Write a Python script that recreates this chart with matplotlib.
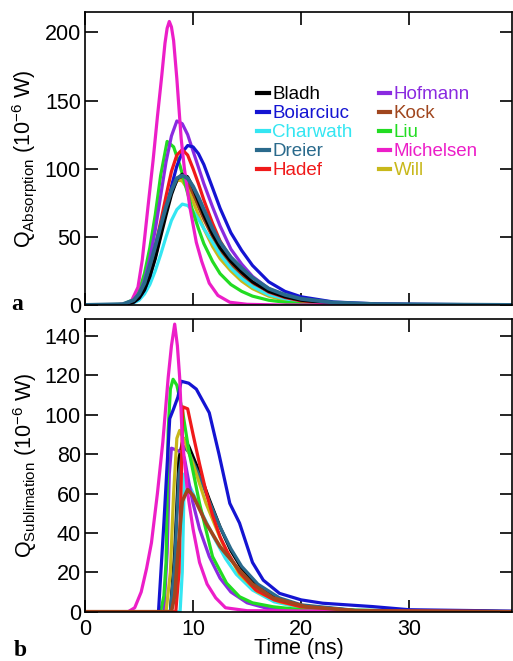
import matplotlib
matplotlib.use("Agg")
import matplotlib.pyplot as plt

plt.rcParams['font.family'] = ['Liberation Sans', 'DejaVu Sans']
plt.rcParams['mathtext.fontset'] = 'custom'
plt.rcParams['mathtext.rm'] = 'Liberation Sans'
plt.rcParams['mathtext.it'] = 'Liberation Sans:italic'
plt.rcParams['mathtext.bf'] = 'Liberation Sans:bold'

names = ['Bladh', 'Boiarciuc', 'Charwath', 'Dreier', 'Hadef',
         'Hofmann', 'Kock', 'Liu', 'Michelsen', 'Will']
colors = ['#000000', '#1414d2', '#34e6f2', '#2a6a8c', '#f01a1a',
          '#8a2ae0', '#a0461e', '#22dc22', '#ec1ec8', '#c8b81a']

# --- absorption (ns, 1e-6 W) ---
t_abs = [0, 3.5, 4.5, 5.0, 5.5, 6.0, 6.5, 7.0, 7.5, 8.0, 8.5, 9.0, 9.5, 10.0,
         10.5, 11.0, 11.8, 12.5, 13.5, 14.5, 15.5, 17.0, 18.5, 20.0, 23.0, 27.0, 39.5]
abs_bladh = [0, 0.3, 2, 5, 11, 21, 34, 50, 66, 81, 92, 96, 94, 86,
             76, 66, 52, 42, 32, 24, 17, 10, 6, 3.5, 1.2, 0.4, 0]
abs_boiarciuc = [0, 0.2, 2, 5, 11, 21, 35, 52, 70, 87, 102, 112, 117, 116,
                 111, 103, 86, 71, 53, 40, 29, 17, 10, 6, 2.2, 0.8, 0]
abs_charwath = [0, 0.2, 1.5, 3.5, 8, 15, 25, 37, 50, 62, 70, 74, 73, 69,
                63, 56, 46, 37, 27, 19.5, 13.5, 7.5, 4.5, 2.5, 0.8, 0.3, 0]
abs_dreier = [0, 0.6, 3.5, 8, 16, 29, 43, 58, 72, 84, 93, 95, 93, 87,
              79, 70, 56, 46, 35, 27, 20, 12, 7.5, 4.5, 1.8, 0.6, 0]
abs_hadef = [0, 0.3, 2.5, 6, 14, 26, 42, 61, 80, 98, 110, 114, 110, 100,
             89, 77, 60, 47, 34, 24, 17, 9.5, 5.5, 3, 1, 0.3, 0]
abs_hofmann = [0, 0.3, 3, 8, 18, 34, 55, 80, 105, 124, 135, 133, 125, 113,
               101, 89, 72, 58, 41, 30, 21, 12, 7, 4, 1.4, 0.4, 0]
abs_kock = [0, 0.3, 2.3, 5.5, 12, 23, 37, 54, 70, 83, 91, 93, 89, 81,
            72, 63, 50, 40, 30, 22, 15.5, 9, 5, 3, 1, 0.3, 0]
abs_will = [0, 0.3, 2.5, 6, 13, 24, 39, 56, 72, 85, 92, 91, 85, 76,
            66, 56, 43, 34, 25, 17.5, 12, 6.5, 3.5, 2, 0.6, 0.2, 0]

t_abs_liu = [0, 3.5, 4.5, 5.0, 5.5, 6.0, 6.5, 7.0, 7.6, 8.2, 8.8, 9.5, 10.0,
             10.5, 11.0, 11.8, 12.5, 13.5, 14.5, 15.5, 17.0, 18.5, 20.0, 23.0, 39.5]
abs_liu = [0, 0.4, 4, 10, 23, 42, 66, 95, 120, 116, 102, 82, 68,
           56, 45, 32, 23, 15, 10, 6.5, 3.5, 2, 1, 0.2, 0]

t_abs_michelsen = [0, 3.0, 3.7, 4.3, 4.9, 5.3, 5.8, 6.3, 6.7, 7.1, 7.4, 7.6, 7.8,
                   8.0, 8.2, 8.5, 8.9, 9.2, 9.7, 10.3, 10.8, 11.5, 12.3, 13.4, 15.0, 18.0, 39.5]
abs_michelsen = [0, 0.2, 0.8, 3, 13, 33, 70, 106, 138, 168, 192, 203, 208,
                 204, 194, 166, 122, 100, 72, 46, 32, 16, 7, 2, 0.5, 0, 0]

# --- sublimation (ns, 1e-6 W) ---
t_sub_bladh = [0, 7.9, 8.3, 8.7, 9.1, 9.6, 10.5, 11.5, 12.5, 13.5, 14.5, 16, 18, 20, 25, 39.5]
sub_bladh = [0, 0, 30, 78, 88, 84, 72, 57, 43, 31, 22, 13, 6, 3, 0.6, 0]
sub_dreier = [0, 0, 25, 70, 84, 81, 70, 56, 43, 32, 23, 14, 7, 3.5, 0.7, 0]

t_sub_boiarciuc = [0, 6.8, 7.3, 7.84, 8.2, 8.6, 8.9, 9.6, 10.3, 11.0, 11.5, 12.4,
                   13.4, 14.3, 15.5, 16.5, 18.0, 20.0, 22.0, 26.6, 30.0, 39.5]
sub_boiarciuc = [0, 0, 45, 98, 103, 109, 117, 116, 113, 106, 101, 80,
                 55, 45, 25, 16, 9.3, 6, 4.3, 2.6, 1, 0.3]

t_sub_charwath = [0, 8.8, 9.0, 9.2, 9.5, 10, 11, 12, 13, 14, 15.5, 17.5, 20, 25, 39.5]
sub_charwath = [0, 0, 20, 70, 66, 60, 48, 37, 27, 19, 11, 5, 2, 0.3, 0]

t_sub_hadef = [0, 8.4, 8.7, 8.9, 9.05, 9.5, 10.0, 10.6, 11.2, 11.8, 12.5, 13.2,
               14.3, 15.8, 17.5, 20, 25, 39.5]
sub_hadef = [0, 0, 20, 65, 104, 103, 90, 75, 61, 49, 38, 30, 20, 11, 6, 2.5, 0.5, 0]

t_sub_hofmann = [0, 7.3, 7.6, 7.8, 8.0, 8.5, 8.9, 9.2, 9.7, 10.0, 10.6, 11.5,
                 12.5, 13.5, 15, 17, 20, 39.5]
sub_hofmann = [0, 0, 30, 70, 83, 82, 81, 78, 63, 55, 42, 28, 17, 10, 4.5, 1.5, 0.3, 0]

t_sub_kock = [0, 8.0, 8.3, 8.6, 9.0, 9.5, 10.0, 11.2, 12.5, 14.3, 15.5, 17.4, 20.5, 25, 39.5]
sub_kock = [0, 0, 8, 30, 56, 62, 59, 45, 33, 21, 14, 7, 2.5, 0.5, 0]

t_sub_liu = [0, 7.0, 7.3, 7.5, 7.7, 7.9, 8.15, 8.5, 9.05, 9.6, 10.6, 11.8, 13.1,
             14.3, 15.5, 17.4, 20, 39.5]
sub_liu = [0, 0, 8, 25, 92, 113, 118, 115, 101, 82, 55, 28, 14.5, 7.6, 4.5, 2.5, 1, 0]

t_sub_michelsen = [0, 4.0, 4.6, 5.2, 5.7, 6.15, 6.7, 7.2, 7.7, 8.0, 8.3, 8.55, 8.76,
                   9.0, 9.5, 10.0, 10.6, 11.3, 12.1, 13.0, 15.0, 39.5]
sub_michelsen = [0, 0, 2, 10, 22, 35, 60, 86, 119, 135, 146, 135, 119,
                 88, 60, 42, 25, 14, 7, 2, 0.5, 0]

t_sub_will = [0, 7.5, 7.9, 8.2, 8.5, 8.76, 9.2, 10.0, 11.2, 12.7, 14.3, 16, 18, 20, 25, 39.5]
sub_will = [0, 0, 20, 60, 88, 92, 87, 75, 55, 35, 19, 10, 5, 2.5, 0.5, 0]

abs_series = {
    'Bladh': (t_abs, abs_bladh), 'Boiarciuc': (t_abs, abs_boiarciuc),
    'Charwath': (t_abs, abs_charwath), 'Dreier': (t_abs, abs_dreier),
    'Hadef': (t_abs, abs_hadef), 'Hofmann': (t_abs, abs_hofmann),
    'Kock': (t_abs, abs_kock), 'Liu': (t_abs_liu, abs_liu),
    'Michelsen': (t_abs_michelsen, abs_michelsen), 'Will': (t_abs, abs_will),
}
sub_series = {
    'Bladh': (t_sub_bladh, sub_bladh), 'Boiarciuc': (t_sub_boiarciuc, sub_boiarciuc),
    'Charwath': (t_sub_charwath, sub_charwath), 'Dreier': (t_sub_bladh, sub_dreier),
    'Hadef': (t_sub_hadef, sub_hadef), 'Hofmann': (t_sub_hofmann, sub_hofmann),
    'Kock': (t_sub_kock, sub_kock), 'Liu': (t_sub_liu, sub_liu),
    'Michelsen': (t_sub_michelsen, sub_michelsen), 'Will': (t_sub_will, sub_will),
}
color_of = dict(zip(names, colors))

# drawing order (last on top)
abs_order = ['Kock', 'Will', 'Charwath', 'Liu', 'Hofmann', 'Boiarciuc',
             'Hadef', 'Bladh', 'Michelsen', 'Dreier']
sub_order = ['Bladh', 'Dreier', 'Charwath', 'Hofmann', 'Will', 'Liu',
             'Boiarciuc', 'Hadef', 'Michelsen', 'Kock']

fig = plt.figure(figsize=(5.13, 6.61), dpi=100)
ax1 = fig.add_axes([0.1657, 0.5386, 0.832, 0.4433])
ax2 = fig.add_axes([0.1657, 0.0746, 0.832, 0.4428])

lines = {}
for name in abs_order:
    t, q = abs_series[name]
    lw = 2.8 if name == 'Dreier' else 2.3
    lines[name], = ax1.plot(t, q, color=color_of[name], lw=lw, label=name)
for name in sub_order:
    t, q = sub_series[name]
    lw = 2.6 if name == 'Kock' else 2.3
    ax2.plot(t, q, color=color_of[name], lw=lw)

for ax in (ax1, ax2):
    ax.set_xlim(0, 39.5)
    ax.set_xticks([0, 10, 20, 30])
    ax.tick_params(direction='in', length=9, width=1.2, top=True, right=True,
                   labelsize=15.5, pad=3)
    for sp in ax.spines.values():
        sp.set_linewidth(1.2)

ax1.set_ylim(0, 215)
ax1.set_yticks([0, 50, 100, 150, 200])
ax1.tick_params(axis='x', labelbottom=False)
ax1.set_ylabel(r'Q$_{\mathrm{Absorption}}$ (10$^{\mathrm{-6}}$ W)', fontsize=15.5, labelpad=4)

ax2.set_ylim(0, 148.6)
ax2.set_yticks([0, 20, 40, 60, 80, 100, 120, 140])
ax2.tick_params(axis='x', pad=5)
ax2.set_ylabel(r'Q$_{\mathrm{Sublimation}}$ (10$^{\mathrm{-6}}$ W)', fontsize=15.5, labelpad=4)
ax2.set_xlabel('Time (ns)', fontsize=15.5, labelpad=-1)

leg = ax1.legend([lines[n] for n in names], names, ncol=2, frameon=False,
                 loc='upper left', bbox_to_anchor=(0.386, 0.773),
                 fontsize=13.5, handlelength=0.6, handletextpad=0.2,
                 labelspacing=0.1, columnspacing=1.39, labelcolor='linecolor',
                 borderaxespad=0)
for h in leg.legend_handles:
    h.set_linewidth(3)

fig.text(0.022, 0.531, 'a', family='Liberation Serif', weight='bold', fontsize=17)
fig.text(0.026, 0.007, 'b', family='Liberation Serif', weight='bold', fontsize=17)

fig.savefig('out.png', dpi=100)
